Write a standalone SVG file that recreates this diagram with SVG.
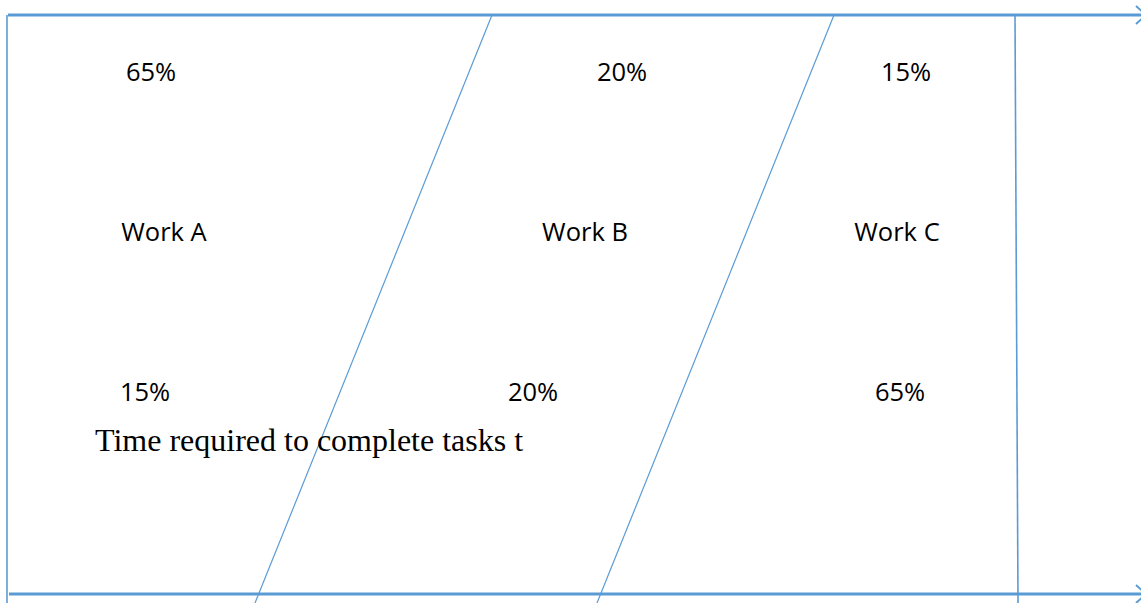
<svg xmlns="http://www.w3.org/2000/svg" width="1141" height="603" viewBox="0 0 1141 603">
  <style>
    .axis { stroke: #5b9bd5; stroke-width: 2.8; fill: none; }
    .edge { stroke: #5b9bd5; stroke-width: 1.6; fill: none; }
    .div { stroke: #5b9bd5; stroke-width: 1.2; fill: none; }
    .lbl { font-family: "Open Sans", "Liberation Sans", sans-serif; font-size: 25.5px; fill: #000; }
    .cap { font-family: "Liberation Serif", serif; font-size: 32px; fill: #000; }
  </style>
  <defs>
    <marker id="chev" viewBox="0 0 12 20" refX="11" refY="10" markerWidth="12" markerHeight="20" markerUnits="userSpaceOnUse" orient="auto">
      <path d="M1 1 L11 10 L1 19" stroke="#5b9bd5" stroke-width="2" fill="none"/>
    </marker>
  </defs>
  <g id="connectors">
    <line class="axis" x1="8" y1="15" x2="1146" y2="15" marker-end="url(#chev)"/>
    <line class="axis" x1="9" y1="594" x2="1146" y2="594" marker-end="url(#chev)"/>
    <line class="edge" x1="7" y1="15" x2="7" y2="603"/>
    <line class="edge" x1="1015" y1="15" x2="1018" y2="603"/>
    <line class="div" x1="492" y1="15" x2="255" y2="603"/>
    <line class="div" x1="834" y1="15" x2="597" y2="603"/>
  </g>
  <g id="work-a">
    <text class="lbl" x="151" y="81" text-anchor="middle">65%</text>
    <text class="lbl" x="164" y="241" text-anchor="middle">Work A</text>
    <text class="lbl" x="145" y="401" text-anchor="middle">15%</text>
  </g>
  <g id="work-b">
    <text class="lbl" x="622" y="81" text-anchor="middle">20%</text>
    <text class="lbl" x="585" y="241" text-anchor="middle">Work B</text>
    <text class="lbl" x="533" y="401" text-anchor="middle">20%</text>
  </g>
  <g id="work-c">
    <text class="lbl" x="906" y="81" text-anchor="middle">15%</text>
    <text class="lbl" x="897" y="241" text-anchor="middle">Work C</text>
    <text class="lbl" x="900" y="401" text-anchor="middle">65%</text>
  </g>
  <g id="caption">
    <text class="cap" x="95" y="451">Time required to complete tasks t</text>
  </g>
</svg>
